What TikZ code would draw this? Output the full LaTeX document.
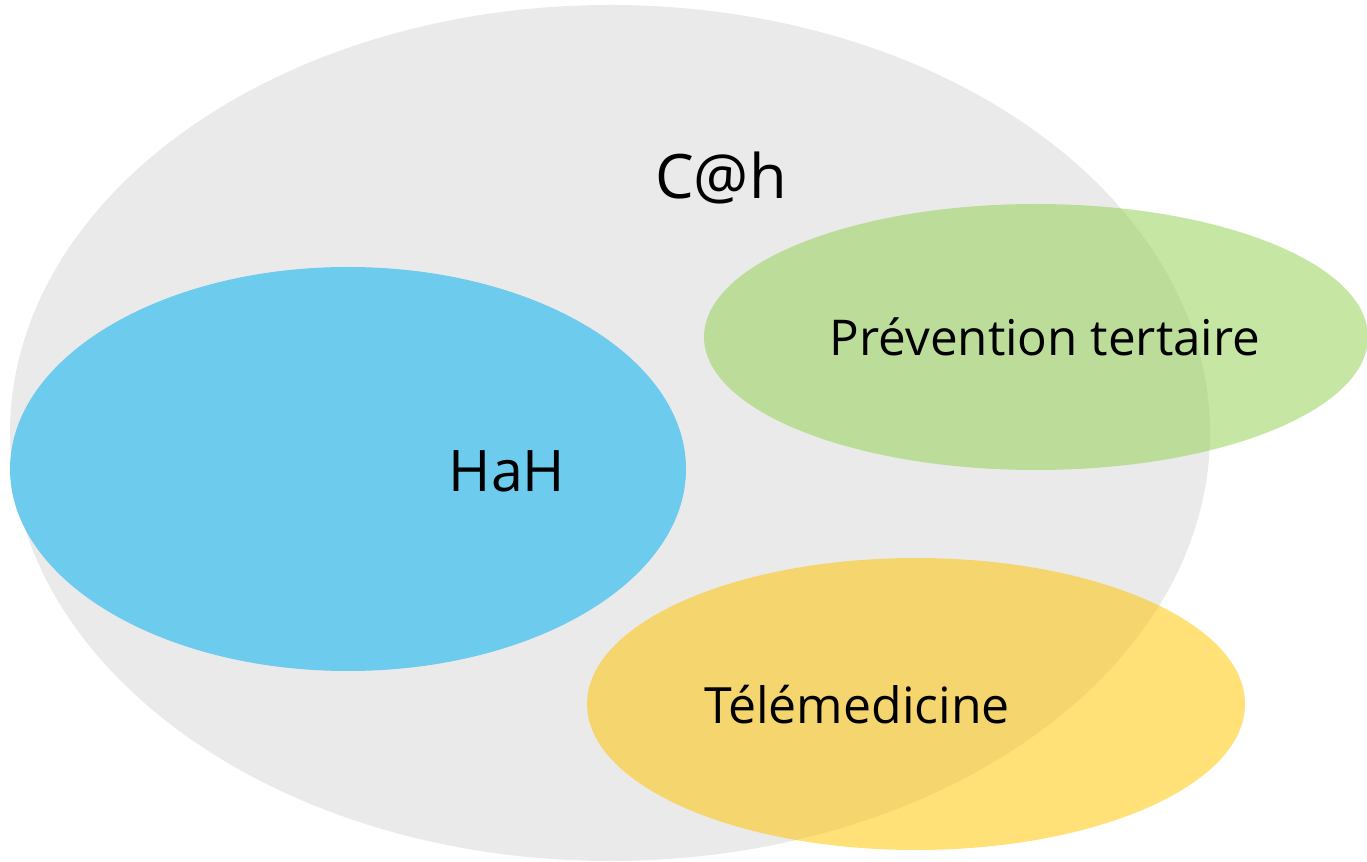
\documentclass[tikz,border=0pt]{standalone}
\usepackage{fontspec}
\setmainfont{Open Sans}
\definecolor{cahgray}{HTML}{EAEAEA}
\definecolor{hahblue}{HTML}{6DCBED}
\definecolor{prevgreen}{HTML}{92D050}
\definecolor{teleyellow}{HTML}{FFC600}
\tikzset{
  lbl/.style={anchor=base, text=black, inner sep=0pt}
}
\usetikzlibrary{shapes.geometric}
\begin{document}
\begin{tikzpicture}[x=0.75pt,y=-0.75pt]
\useasboundingbox (0,0) rectangle (1367,862);
\fill[cahgray] (610,433) ellipse [x radius=600, y radius=428];
\fill[hahblue] (348,469) ellipse [x radius=338, y radius=202];
\fill[prevgreen, fill opacity=0.52] (1036,337) ellipse [x radius=332, y radius=133];
\fill[teleyellow, fill opacity=0.53] (916,704) ellipse [x radius=329, y radius=146];
\node[lbl, font=\fontsize{46}{50}\selectfont] (cah) at (721,199) {C@h};
\node[lbl, font=\fontsize{43}{48}\selectfont] (hah) at (507,492) {HaH};
\node[lbl, font=\fontsize{37}{42}\selectfont] (prev) at (1045,356) {Prévention tertaire};
\node[lbl, font=\fontsize{37.5}{42}\selectfont] (tele) at (857,723) {Télémedicine};
\end{tikzpicture}
\end{document}
